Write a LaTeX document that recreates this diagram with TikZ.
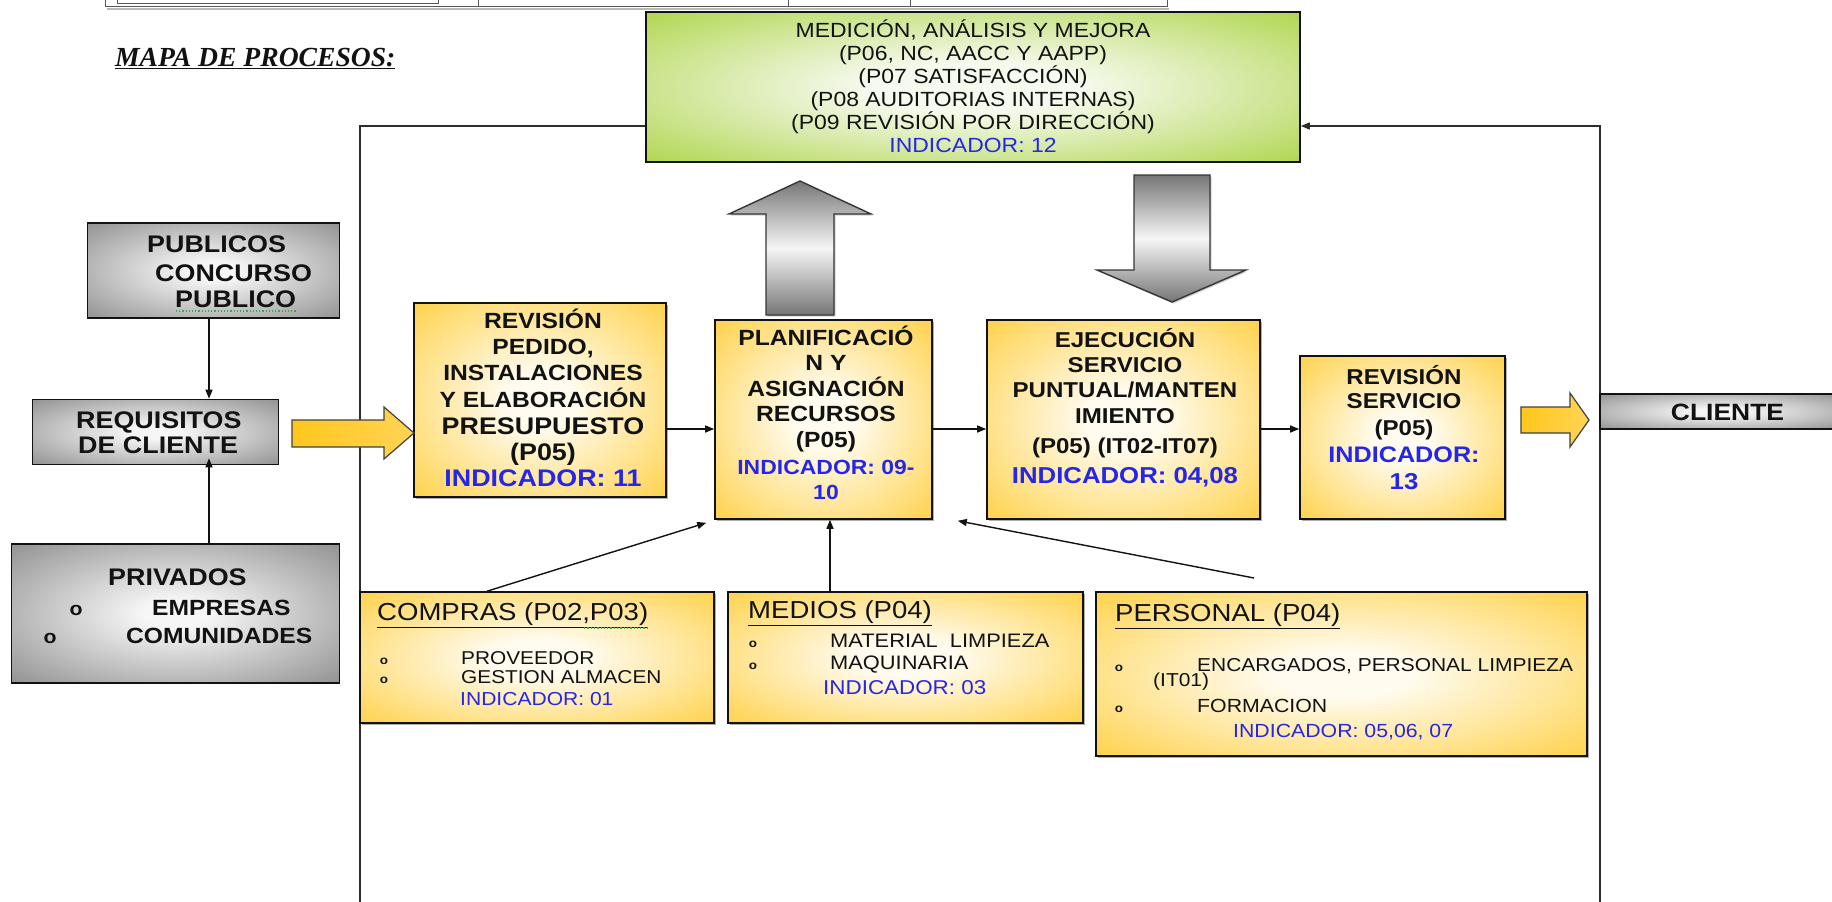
\documentclass[tikz,border=0pt]{standalone}
\usepackage{fontspec}
\setmainfont{Liberation Sans}[FakeStretch=1.12]
\newfontfamily\titlefont{Liberation Serif}
\usetikzlibrary{arrows.meta,shadows}

\definecolor{ink}{RGB}{18,18,18}
\definecolor{rule}{RGB}{45,45,45}
\definecolor{indblue}{RGB}{38,38,232}
\definecolor{yelE}{RGB}{255,198,28}
\definecolor{yelC}{RGB}{255,251,238}
\definecolor{grayE}{RGB}{118,118,118}
\definecolor{grayC}{RGB}{246,246,246}
\definecolor{grnE}{RGB}{150,200,20}
\definecolor{grnC}{RGB}{246,250,238}
\definecolor{spell}{RGB}{60,170,60}

\pgfdeclareradialshading{yelglow}{\pgfpoint{0bp}{0bp}}{color(0bp)=(yelC); color(7bp)=(yelC); color(44bp)=(yelE); color(50bp)=(yelE)}
\pgfdeclareradialshading{grayglow}{\pgfpoint{0bp}{0bp}}{color(0bp)=(grayC); color(5bp)=(grayC); color(44bp)=(grayE); color(50bp)=(grayE)}
\pgfdeclareradialshading{grnglow}{\pgfpoint{0bp}{0bp}}{color(0bp)=(grnC); color(8bp)=(grnC); color(46bp)=(grnE); color(50bp)=(grnE)}

\newcommand{\fz}[1]{\fontsize{#1}{#1}\selectfont}

\begin{document}
\begin{tikzpicture}[x=1pt,y=-1pt,
  box/.style={draw=ink, line width=1.6pt, inner sep=0pt, rectangle},
  ybox/.style={box, shading=yelglow, drop shadow={shadow xshift=2pt, shadow yshift=-2pt, opacity=.45, fill=black!70}},
  gbox/.style={box, shading=grayglow},
  mbox/.style={box, shading=grnglow},
  tb/.style={anchor=base, inner sep=0pt, text=ink, font=\bfseries\fz{#1}},
  tr/.style={anchor=base, inner sep=0pt, text=ink, font=\fz{#1}},
  tbl/.style={anchor=base west, inner sep=0pt, text=ink, font=\bfseries\fz{#1}},
  trl/.style={anchor=base west, inner sep=0pt, text=ink, font=\fz{#1}},
  ind/.style={text=indblue},
  bul/.style={anchor=base, inner sep=0pt, text=ink, font=\bfseries\fz{#1}},
  frame/.style={draw=rule, line width=1.5pt},
  conn/.style={draw=ink, line width=1.4pt, -{Triangle[length=9pt,width=7pt]}},
  yarrow/.style={draw=ink!80, line width=1.2pt, left color=yelE, middle color=white, right color=yelE!75},
  garrow/.style={draw=ink!85, line width=1.4pt, top color=grayE, bottom color=grayE, middle color=grayC,
                 drop shadow={shadow xshift=1.5pt, shadow yshift=-1.5pt, opacity=.3, fill=black!60}},
]
\useasboundingbox (0,0) rectangle (1832,902);
\fill[white] (0,0) rectangle (1832,902);

% remains of the table above
\draw[rule!80, line width=1pt] (105,-2) -- (105,6) -- (1167,6) -- (1167,-2);
\draw[rule!80, line width=1pt] (478,-2) -- (478,6) (788,-2) -- (788,6) (910,-2) -- (910,6);
\draw[rule!80, line width=1pt] (117,-2) -- (117,3) -- (438,3) -- (438,-2);
\draw[gray!55, line width=2pt] (107,8.5) -- (1169,8.5);

% heading
\node[anchor=base west, inner sep=0pt, text=ink, font=\titlefont\bfseries\itshape\fz{27.6}] (title) at (115,66.5) {\underline{MAPA DE PROCESOS:}};

% frame lines
\coordinate (ltop) at (360,126);
\coordinate (lbot) at (360,906);
\coordinate (rtop) at (1600,126);
\coordinate (rbot) at (1600,906);

% measurement / improvement box
\node[mbox, minimum width=654pt, minimum height=150pt] (mej) at (973,87) {};
\node[tr=20.5] (mej1) at (973,37.3) {MEDICIÓN, ANÁLISIS Y MEJORA};
\node[tr=20.5] (mej2) at (973,60.3) {(P06, NC, AACC Y AAPP)};
\node[tr=20.5] (mej3) at (973,83.3) {(P07 SATISFACCIÓN)};
\node[tr=20.5] (mej4) at (973,106.3) {(P08 AUDITORIAS INTERNAS)};
\node[tr=20.5] (mej5) at (973,129.3) {(P09 REVISIÓN POR DIRECCIÓN)};
\node[tr=20.5, ind] (mej6) at (973,152.3) {INDICADOR: 12};

\draw[frame] (lbot) -- (ltop) -- (mej.west |- ltop);
\draw[frame, -{Triangle[length=9pt,width=7pt]}] (rbot) -- (rtop) -- (mej.east |- rtop);

% client side boxes
\node[gbox, minimum width=252pt, minimum height=95pt] (pub) at (213.5,270.5) {};
\node[tbl=24] (pub1) at (147,252) {PUBLICOS};
\node[tbl=24] (pub2) at (155,281) {CONCURSO};
\node[tbl=24] (pub3) at (175,307) {PUBLICO};
\draw[spell, dotted, line width=1.2pt] (176,311) -- (297,311);

\node[gbox, minimum width=246pt, minimum height=65pt] (req) at (155.5,432) {};
\node[tbl=24] (req1) at (76,428.6) {REQUISITOS};
\node[tbl=24] (req2) at (78,453.6) {DE CLIENTE};

\node[gbox, minimum width=328pt, minimum height=139pt] (priv) at (175.5,613.5) {};
\node[tbl=24] (priv1) at (108,585.6) {PRIVADOS};
\node[bul=19] (privb1) at (76,615) {o};
\node[tbl=22] (priv2) at (152,615) {EMPRESAS};
\node[bul=19] (privb2) at (50,643) {o};
\node[tbl=22] (priv3) at (126,643) {COMUNIDADES};

\coordinate (spine) at (209,0);
\draw[conn] (spine |- pub.south) -- (spine |- req.north);
\draw[conn] (spine |- priv.north) -- ([yshift=7pt]spine |- req.south);

% main process boxes
\node[ybox, minimum width=252pt, minimum height=194pt] (rev) at (540,400) {};
\node[tb=22] (rev1) at (543,328.3) {REVISIÓN};
\node[tb=22] (rev2) at (543,354.6) {PEDIDO,};
\node[tb=22] (rev3) at (543,380.9) {INSTALACIONES};
\node[tb=22] (rev4) at (543,407.2) {Y ELABORACIÓN};
\node[tb=24] (rev5) at (543,434.3) {PRESUPUESTO};
\node[tb=24] (rev6) at (543,460.6) {(P05)};
\node[tb=24, ind] (rev7) at (543,486.9) {INDICADOR: 11};

\node[ybox, minimum width=217pt, minimum height=199pt] (plan) at (823.5,419.5) {};
\node[tb=22] (plan1) at (826,345.9) {PLANIFICACIÓ};
\node[tb=22] (plan2) at (826,370.9) {N Y};
\node[tb=22] (plan3) at (826,396.4) {ASIGNACIÓN};
\node[tb=22] (plan4) at (826,421.9) {RECURSOS};
\node[tb=22] (plan5) at (826,447.9) {(P05)};
\node[tb=20.5, ind] (plan6) at (826,474.3) {INDICADOR: 09-};
\node[tb=20.5, ind] (plan7) at (826,499.3) {10};

\node[ybox, minimum width=273pt, minimum height=199pt] (eje) at (1123.5,419.5) {};
\node[tb=21.5] (eje1) at (1125,347.7) {EJECUCIÓN};
\node[tb=21.5] (eje2) at (1125,372.7) {SERVICIO};
\node[tb=21.5] (eje3) at (1125,397.7) {PUNTUAL/MANTEN};
\node[tb=21.5] (eje4) at (1125,423.7) {IMIENTO};
\node[tb=21.5] (eje5) at (1125,453.7) {(P05) (IT02-IT07)};
\node[tb=23, ind] (eje6) at (1125,483.2) {INDICADOR: 04,08};

\node[ybox, minimum width=205pt, minimum height=163pt] (rsv) at (1402.5,437.5) {};
\node[tb=21.5] (rsv1) at (1404,384.2) {REVISIÓN};
\node[tb=21.5] (rsv2) at (1404,408.7) {SERVICIO};
\node[tb=21.5] (rsv3) at (1404,435.2) {(P05)};
\node[tb=22.5, ind] (rsv4) at (1404,462.1) {INDICADOR:};
\node[tb=23, ind] (rsv5) at (1404,489.2) {13};

\node[gbox, minimum width=240pt, minimum height=35pt] (cli) at (1720,411.5) {};
\node[tb=23.6] (cli1) at (1727.5,420) {CLIENTE};

% flow between the main processes
\coordinate (row) at (0,429);
\draw[conn] (rev.east |- row) -- (plan.west |- row);
\draw[conn] (plan.east |- row) -- (eje.west |- row);
\draw[conn] (eje.east |- row) -- (rsv.west |- row);

% wide arrows
\draw[yarrow] (292,420) -- (384,420) -- (384,407) -- (414,433) -- (384,459) -- (384,447) -- (292,447) -- cycle;
\draw[yarrow] (1521,407) -- (1570,407) -- (1570,393) -- (1589,420) -- (1570,447) -- (1570,433) -- (1521,433) -- cycle;
\draw[garrow] (766,315) -- (766,214) -- (729,214) -- (800,181) -- (871,214) -- (834,214) -- (834,315) -- cycle;
\draw[garrow] (1134,175) -- (1210,175) -- (1210,270) -- (1246,270) -- (1172,302) -- (1097,270) -- (1134,270) -- cycle;

% support processes
\node[ybox, minimum width=354pt, minimum height=131pt] (com) at (537,657.5) {};
\node[trl=24.6] (com0) at (377,620.8) {\underline{COMPRAS (P02,P03)}};
\draw[spell, dotted, line width=1.3pt] (584,628) -- (648,628);
\node[bul=12] (comb1) at (384,664.7) {o};
\node[trl=18.6] (com1) at (461,664.7) {PROVEEDOR};
\node[bul=12] (comb2) at (384,683.7) {o};
\node[trl=18.6] (com2) at (461,683.7) {GESTION ALMACEN};
\node[trl=18.8, ind] (com3) at (460,705.5) {INDICADOR: 01};

\node[ybox, minimum width=355pt, minimum height=131pt] (mdo) at (905.5,657.5) {};
\node[trl=24.6] (mdo0) at (748,618.8) {\underline{MEDIOS (P04)}};
\node[bul=12] (mdob1) at (753,647) {o};
\node[trl=19.5] (mdo1) at (830,647) {MATERIAL\ \ LIMPIEZA};
\node[bul=12] (mdob2) at (753,669.5) {o};
\node[trl=19.5] (mdo2) at (830,669.5) {MAQUINARIA};
\node[trl=20, ind] (mdo3) at (823,694.2) {INDICADOR: 03};

\node[ybox, minimum width=491pt, minimum height=164pt] (per) at (1341.5,674) {};
\node[trl=24.6] (per0) at (1115,621.8) {\underline{PERSONAL (P04)}};
\node[bul=12] (perb1) at (1119,671.7) {o};
\node[trl=18.7] (per1) at (1197,671.7) {ENCARGADOS, PERSONAL LIMPIEZA};
\node[trl=18.7] (per2) at (1153,686.7) {(IT01)};
\node[bul=12] (perb2) at (1119,712.2) {o};
\node[trl=19] (per3) at (1197,712.2) {FORMACION};
\node[trl=19, ind] (per4) at (1233,737.3) {INDICADOR: 05,06, 07};

% inputs to planning
\coordinate (mx) at (830,0);
\coordinate (pstart) at (1254,578);
\draw[conn] ([xshift=-50pt]com.north) -- ([shift={(-8pt,-3pt)}]plan.south west);
\draw[conn] (mx |- mdo.north) -- (mx |- plan.south);
\draw[conn] (pstart) -- ([shift={(25pt,-1pt)}]plan.south east);
\end{tikzpicture}
\end{document}
